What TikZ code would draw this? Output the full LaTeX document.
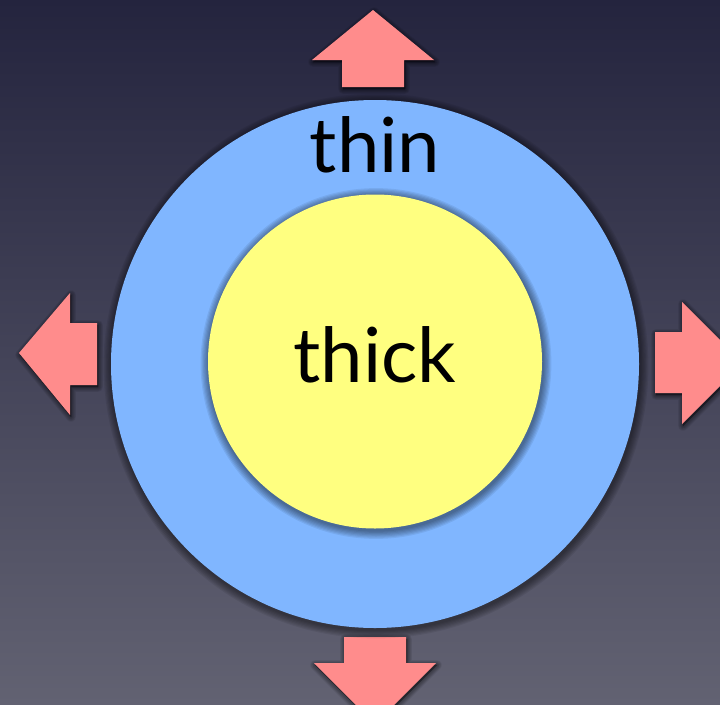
\documentclass[tikz,border=0pt]{standalone}
\usepackage{fontspec}
\setmainfont{Lato}
\definecolor{bgtop}{RGB}{36,36,62}
\definecolor{bgbot}{RGB}{98,98,114}
\definecolor{ringblue}{RGB}{128,182,255}
\definecolor{coreyellow}{RGB}{255,255,128}
\definecolor{arrowpink}{RGB}{255,140,140}
\tikzset{
  disc/.style={circle, inner sep=0pt, minimum size=#1, draw=none},
  bigarrow/.style={fill=arrowpink, draw=none},
  softshade/.style={black, opacity=0.07, line join=round},
  label/.style={font=\fontsize{76}{80}\selectfont, text=black, inner sep=0pt}
}
\newcommand{\softcircle}[2]{% center, radius
  \foreach \k in {1,...,7}{
    \fill[softshade] ($#1+(1,2)$) circle[radius=#2+\k*1.2];
  }
}
\newcommand{\softpath}[1]{%
  \foreach \k in {1,...,6}{
    \filldraw[softshade, line width=\k*1.6pt, shift={(1,2)}] #1;
  }
}
\usetikzlibrary{calc}
\begin{document}
\begin{tikzpicture}[x=1pt,y=-1pt]
\shade[top color=bgtop, bottom color=bgbot] (0,0) rectangle (720,704);
\useasboundingbox (0,0) rectangle (720,704);
% arrows
\def\arrowup{(373,10) -- (434,60) -- (404,60) -- (404,87) -- (342,87) -- (342,60) -- (312,60) -- cycle}
\def\arrowleft{(19,353) -- (70,293) -- (70,323) -- (97,323) -- (97,385) -- (70,385) -- (70,415) -- cycle}
\def\arrowright{(743,363) -- (682,302) -- (682,332) -- (655,332) -- (655,393) -- (682,393) -- (682,424) -- cycle}
\def\arrowdown{(375,724) -- (436,663) -- (406,663) -- (406,637) -- (344,637) -- (344,663) -- (314,663) -- cycle}
\softpath{\arrowup}
\softpath{\arrowleft}
\softpath{\arrowright}
\softpath{\arrowdown}
\path[bigarrow] \arrowup;
\path[bigarrow] \arrowleft;
\path[bigarrow] \arrowright;
\path[bigarrow] \arrowdown;
% circles
\softcircle{(375,364)}{264}
\node[disc=528pt, fill=ringblue] (ring) at (375,364) {};
\softcircle{(375,361.5)}{167}
\node[disc=334pt, fill=coreyellow] (core) at (375,361.5) {};
\node[label, anchor=base] (thin) at (375,172) {thin};
\node[label, anchor=base] (thick) at (375,382) {thick};
\end{tikzpicture}
\end{document}
